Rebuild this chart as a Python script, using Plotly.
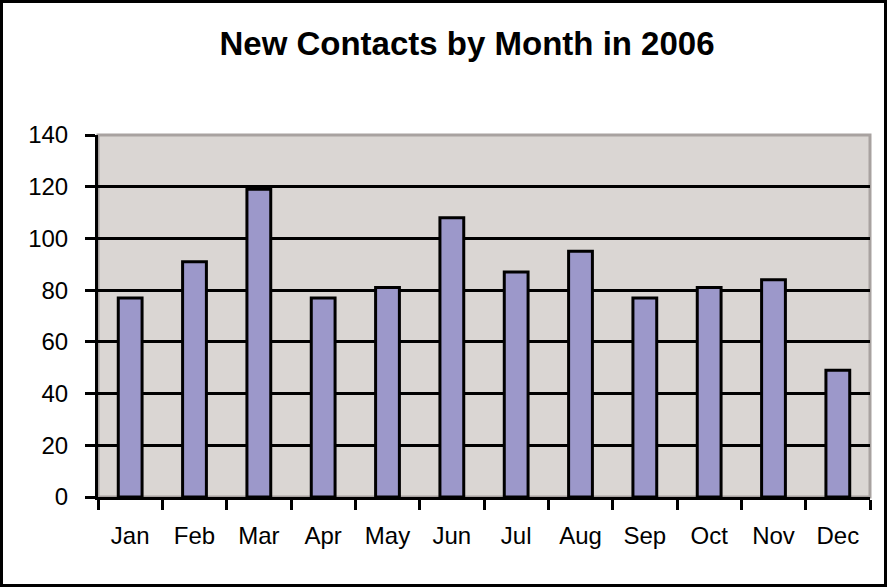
import plotly.graph_objects as go

months = ["Jan", "Feb", "Mar", "Apr", "May", "Jun", "Jul", "Aug", "Sep", "Oct", "Nov", "Dec"]
contacts = [77, 91, 119, 77, 81, 108, 87, 95, 77, 81, 84, 49]
y_ticks = [0, 20, 40, 60, 80, 100, 120, 140]

W, H = 888, 588
L, R, T, B = 98, 18, 135, 91
pw = W - L - R
ph = H - T - B
FONT = "Arial, Liberation Sans, sans-serif"

fig = go.Figure()
fig.add_trace(go.Bar(
    x=months, y=contacts,
    marker=dict(color="#9C98CA", line=dict(color="#000000", width=3)),
))

fig.update_layout(
    width=W, height=H,
    margin=dict(l=L, r=R, t=T, b=B, pad=0),
    paper_bgcolor="#FFFFFF",
    plot_bgcolor="#DAD6D3",
    bargap=0.63,
    showlegend=False,
    font=dict(family=FONT, color="#000000", size=24),
    title=dict(
        text="<b>New Contacts by Month in 2006</b>",
        x=467 / W, xref="container", xanchor="center",
        y=1 - 43 / H, yref="container", yanchor="middle",
        font=dict(size=33, family=FONT, color="#000000"),
    ),
    xaxis=dict(
        type="category",
        showgrid=False,
        showline=True, linecolor="#000000", linewidth=3,
        ticks="outside", ticklen=10, tickwidth=3, tickcolor="#000000",
        tickson="boundaries",
        ticklabelstandoff=15,
        tickfont=dict(size=24),
        fixedrange=True,
    ),
    yaxis=dict(
        range=[0, 140],
        tickvals=y_ticks,
        showgrid=True, gridcolor="#000000", gridwidth=3,
        showline=True, linecolor="#000000", linewidth=3,
        zeroline=False,
        ticks="outside", ticklen=10, tickwidth=3, tickcolor="#000000",
        ticklabelstandoff=12,
        tickfont=dict(size=24),
        fixedrange=True,
    ),
    shapes=[
        dict(type="rect", xref="x domain", yref="y domain", x0=0, x1=1, y0=0, y1=1,
             line=dict(color="#A8A2A0", width=3), layer="below"),
        dict(type="rect", xref="paper", yref="paper",
             x0=(1.5 - L) / pw, x1=(W - 2.5 - L) / pw,
             y0=-(B - 2.5) / ph, y1=1 + (T - 1.5) / ph,
             line=dict(color="#000000", width=3), layer="above"),
    ],
)

fig.write_html(
    "out.html",
    config={"displayModeBar": False},
    post_script="document.body.style.margin='0';document.body.style.overflow='hidden';",
)
